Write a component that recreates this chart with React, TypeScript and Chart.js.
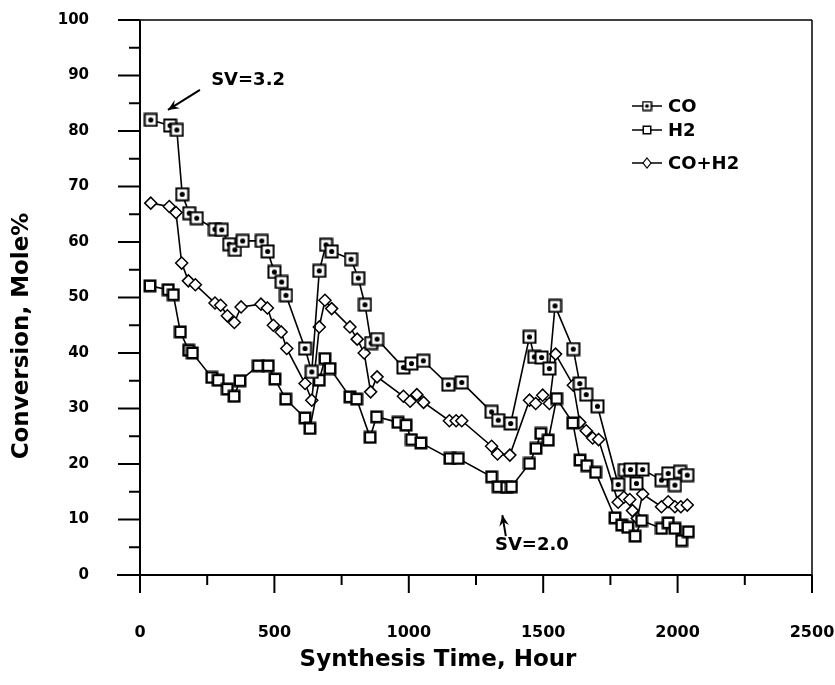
import React, { useEffect, useRef } from "react";
import { Chart, registerables } from "chart.js";

Chart.register(...registerables);

const FONT = "'DejaVu Sans', 'Liberation Sans', sans-serif";

// ---- data ----
const coHours = [40, 112, 137, 157, 183, 211, 279, 304, 332, 353, 382, 453, 475, 500, 527, 543, 614, 639, 667, 692, 713, 785, 812, 837, 860, 882, 980, 1010, 1054, 1147, 1197, 1308, 1333, 1379, 1449, 1467, 1494, 1523, 1544, 1612, 1636, 1660, 1702, 1779, 1804, 1825, 1847, 1870, 1940, 1965, 1990, 2009, 2036];
const coValues = [82, 81, 80.2, 68.6, 65.2, 64.3, 62.3, 62.2, 59.6, 58.6, 60.2, 60.2, 58.3, 54.6, 52.8, 50.4, 40.8, 36.6, 54.8, 59.5, 58.3, 56.9, 53.5, 48.7, 41.8, 42.5, 37.4, 38.1, 38.6, 34.3, 34.7, 29.4, 27.9, 27.3, 42.9, 39.3, 39.2, 37.2, 48.5, 40.7, 34.5, 32.5, 30.4, 16.3, 18.9, 19.0, 16.5, 19.0, 17.1, 18.3, 16.2, 18.6, 18.0];

const h2Hours = [37, 105, 124, 150, 181, 195, 267, 291, 325, 350, 372, 440, 477, 502, 542, 614, 632, 667, 688, 707, 781, 806, 856, 880, 960, 990, 1010, 1045, 1153, 1184, 1308, 1333, 1364, 1382, 1449, 1473, 1491, 1519, 1550, 1610, 1637, 1662, 1695, 1767, 1792, 1815, 1842, 1866, 1940, 1965, 1990, 2015, 2040];
const h2Values = [52.1, 51.4, 50.5, 43.8, 40.5, 40.0, 35.6, 35.1, 33.5, 32.2, 35.0, 37.7, 37.7, 35.3, 31.7, 28.3, 26.4, 35.1, 39.0, 37.2, 32.1, 31.7, 24.8, 28.5, 27.5, 27.0, 24.4, 23.8, 21.0, 21.0, 17.7, 15.9, 15.8, 15.9, 20.1, 22.8, 25.5, 24.3, 31.8, 27.4, 20.7, 19.7, 18.5, 10.3, 9.0, 8.6, 7.0, 9.8, 8.4, 9.4, 8.4, 6.2, 7.8];

const mixHours = [40, 109, 134, 155, 180, 206, 279, 300, 325, 351, 376, 450, 474, 496, 525, 546, 614, 639, 667, 688, 713, 781, 808, 834, 858, 882, 980, 1005, 1030, 1055, 1151, 1176, 1197, 1308, 1330, 1376, 1449, 1472, 1498, 1523, 1546, 1612, 1636, 1660, 1684, 1706, 1779, 1800, 1822, 1832, 1850, 1870, 1940, 1965, 1990, 2012, 2036];
const mixValues = [67, 66.4, 65.3, 56.2, 53, 52.3, 49, 48.6, 46.7, 45.5, 48.3, 48.8, 48.1, 45, 43.8, 40.8, 34.5, 31.5, 44.7, 49.5, 48, 44.7, 42.5, 40, 33, 35.7, 32.2, 31.3, 32.5, 31.1, 27.8, 27.8, 27.8, 23.2, 21.8, 21.6, 31.5, 30.9, 32.4, 30.9, 39.8, 34.2, 27.5, 26, 24.7, 24.4, 13.1, 14.0, 13.6, 11.6, 10.2, 14.6, 12.3, 13.2, 12.3, 12.3, 12.6];

const seriesNames = ["CO", "H2", "CO+H2"];
const xTicks = [0, 500, 1000, 1500, 2000, 2500];
const yTicks = [0, 10, 20, 30, 40, 50, 60, 70, 80, 90, 100];
const xTitle = "Synthesis Time, Hour";
const yTitle = "Conversion, Mole%";
const notes = [
  { text: "SV=3.2", x: 402, y: 89.2, tail: [223, 87.4], tip: [104, 83.8] },
  { text: "SV=2.0", x: 1458, y: 5.4, tail: [1361, 7.0], tip: [1348, 10.8] },
];

function squareMarker(size: number, dot: boolean, lw: number) {
  const c = document.createElement("canvas");
  c.width = size;
  c.height = size;
  const g = c.getContext("2d")!;
  const p = lw / 2 + 0.5;
  g.fillStyle = "#fff";
  g.fillRect(p, p, size - 2 * p, size - 2 * p);
  g.strokeStyle = "#000";
  g.lineWidth = lw;
  g.strokeRect(p, p, size - 2 * p, size - 2 * p);
  if (dot) {
    g.beginPath();
    g.arc(size / 2, size / 2, size * 0.17, 0, Math.PI * 2);
    g.fillStyle = "#000";
    g.fill();
  }
  return c;
}

function toPoints(xs: number[], ys: number[]) {
  return xs.map((x, i) => ({ x, y: ys[i] }));
}

function zeroPad(s: any) {
  s.paddingTop = 0;
  s.paddingBottom = 0;
  s.paddingLeft = 0;
  s.paddingRight = 0;
}

export default function App() {
  const ref = useRef<HTMLCanvasElement | null>(null);

  useEffect(() => {
    if (!ref.current) return;
    const coMark = squareMarker(15, true, 2);
    const h2Mark = squareMarker(14, false, 2.5);
    const coLeg = squareMarker(11, true, 1.5);
    const h2Leg = squareMarker(10, false, 1.5);

    const frame = {
      id: "frame",
      beforeDatasetsDraw(chart: any) {
        const { ctx, chartArea: a, scales } = chart;
        const x = scales.x, y = scales.y;
        ctx.save();
        ctx.strokeStyle = "#000";
        const line = (x1: number, y1: number, x2: number, y2: number, w: number) => {
          ctx.lineWidth = w;
          ctx.beginPath();
          ctx.moveTo(x1, y1);
          ctx.lineTo(x2, y2);
          ctx.stroke();
        };
        line(a.left - 23, a.bottom, a.right, a.bottom, 2);
        line(a.left - 17, a.top, a.right, a.top, 1.5);
        line(a.left, a.top, a.left, a.bottom + 18, 2);
        line(a.right, a.top, a.right, a.bottom + 18, 1.5);
        for (let v = 0; v <= 2500; v += 250) {
          const px = x.getPixelForValue(v);
          line(px, a.bottom, px, a.bottom + (v % 500 === 0 ? 18 : 10), 2);
        }
        for (let v = 0; v <= 100; v += 5) {
          const py = y.getPixelForValue(v);
          line(a.left - (v % 10 === 0 ? 22 : 11), py, a.left, py, 2);
        }
        ctx.restore();
      },
      afterDraw(chart: any) {
        const { ctx, chartArea: a, scales } = chart;
        const x = scales.x, y = scales.y;
        ctx.save();
        ctx.fillStyle = "#000";
        ctx.strokeStyle = "#000";
        // axis titles
        ctx.font = `bold 23px ${FONT}`;
        ctx.textAlign = "center";
        ctx.textBaseline = "middle";
        ctx.fillText(xTitle, a.left + 298, a.bottom + 85);
        ctx.save();
        ctx.translate(22, a.top + 316);
        ctx.rotate(-Math.PI / 2);
        ctx.fillText(yTitle, 0, 0);
        ctx.restore();

        // annotations
        ctx.font = `bold 18px ${FONT}`;
        for (const n of notes) {
          ctx.textAlign = "center";
          ctx.fillText(n.text, x.getPixelForValue(n.x), y.getPixelForValue(n.y));
          const tx = x.getPixelForValue(n.tail[0]), ty = y.getPixelForValue(n.tail[1]);
          const hx = x.getPixelForValue(n.tip[0]), hy = y.getPixelForValue(n.tip[1]);
          ctx.lineWidth = 2;
          ctx.beginPath();
          ctx.moveTo(tx, ty);
          ctx.lineTo(hx, hy);
          ctx.stroke();
          const ang = Math.atan2(ty - hy, tx - hx);
          const L = 12, spread = 0.42;
          ctx.beginPath();
          ctx.moveTo(hx, hy);
          ctx.lineTo(hx + L * Math.cos(ang + spread), hy + L * Math.sin(ang + spread));
          ctx.lineTo(hx + 7 * Math.cos(ang), hy + 7 * Math.sin(ang));
          ctx.lineTo(hx + L * Math.cos(ang - spread), hy + L * Math.sin(ang - spread));
          ctx.closePath();
          ctx.fill();
        }

        // legend
        const lx = a.right - 180;
        const rows = [a.top + 86, a.top + 110, a.top + 143];
        ctx.font = `bold 18px ${FONT}`;
        ctx.textAlign = "left";
        seriesNames.forEach((name, i) => {
          const ly = rows[i];
          ctx.lineWidth = 1.5;
          ctx.beginPath();
          ctx.moveTo(lx, ly);
          ctx.lineTo(lx + 30, ly);
          ctx.stroke();
          if (i === 0) ctx.drawImage(coLeg, lx + 15 - 5.5, ly - 5.5);
          else if (i === 1) ctx.drawImage(h2Leg, lx + 15 - 5, ly - 5);
          else {
            ctx.beginPath();
            ctx.moveTo(lx + 15, ly - 5);
            ctx.lineTo(lx + 19, ly);
            ctx.lineTo(lx + 15, ly + 5);
            ctx.lineTo(lx + 11, ly);
            ctx.closePath();
            ctx.fillStyle = "#fff";
            ctx.fill();
            ctx.lineWidth = 1.2;
            ctx.stroke();
            ctx.fillStyle = "#000";
          }
          ctx.fillText(name, lx + 36, ly + 1);
        });
        ctx.restore();
      },
    };

    const chart = new Chart(ref.current, {
      type: "line",
      data: {
        datasets: [
          {
            label: seriesNames[0],
            data: toPoints(coHours, coValues),
            borderColor: "#000",
            borderWidth: 1.6,
            pointStyle: coMark as any,
            pointRadius: 7,
            tension: 0,
          },
          {
            label: seriesNames[1],
            data: toPoints(h2Hours, h2Values),
            borderColor: "#000",
            borderWidth: 1.6,
            pointStyle: h2Mark as any,
            pointRadius: 7,
            tension: 0,
          },
          {
            label: seriesNames[2],
            data: toPoints(mixHours, mixValues),
            borderColor: "#000",
            borderWidth: 1.6,
            pointStyle: "rectRot",
            pointRadius: 6,
            pointBackgroundColor: "#fff",
            pointBorderColor: "#000",
            pointBorderWidth: 1.5,
            tension: 0,
          },
        ],
      },
      options: {
        animation: false,
        responsive: false,
        events: [],
        layout: { padding: { left: 0, top: 20, right: 23, bottom: 0 } },
        plugins: { legend: { display: false }, tooltip: { enabled: false } },
        scales: {
          x: {
            type: "linear",
            min: 0,
            max: 2500,
            afterBuildTicks: (s: any) => {
              s.ticks = xTicks.map((v) => ({ value: v }));
            },
            afterFit: (s: any) => {
              s.height = 110;
              zeroPad(s);
            },
            ticks: {
              font: { family: FONT, size: 16, weight: "bold" },
              color: "#000",
              padding: 40,
              maxRotation: 0,
              callback: (v: any) => String(v),
            },
            grid: { display: false },
            border: { display: false },
          },
          y: {
            min: 0,
            max: 100,
            afterBuildTicks: (s: any) => {
              s.ticks = yTicks.map((v) => ({ value: v }));
            },
            afterFit: (s: any) => {
              s.width = 140;
              zeroPad(s);
            },
            ticks: {
              font: { family: FONT, size: 15, weight: "bold" },
              color: "#000",
              padding: 43,
              callback: (v: any) => String(v),
            },
            grid: { display: false },
            border: { display: false },
          },
        },
      },
      plugins: [frame],
    } as any);
    return () => chart.destroy();
  }, []);

  return (
    <div style={{ position: "fixed", left: 0, top: 0, width: 835, height: 685, background: "#fff" }}>
      <canvas ref={ref} width={835} height={685} style={{ display: "block" }} />
    </div>
  );
}
